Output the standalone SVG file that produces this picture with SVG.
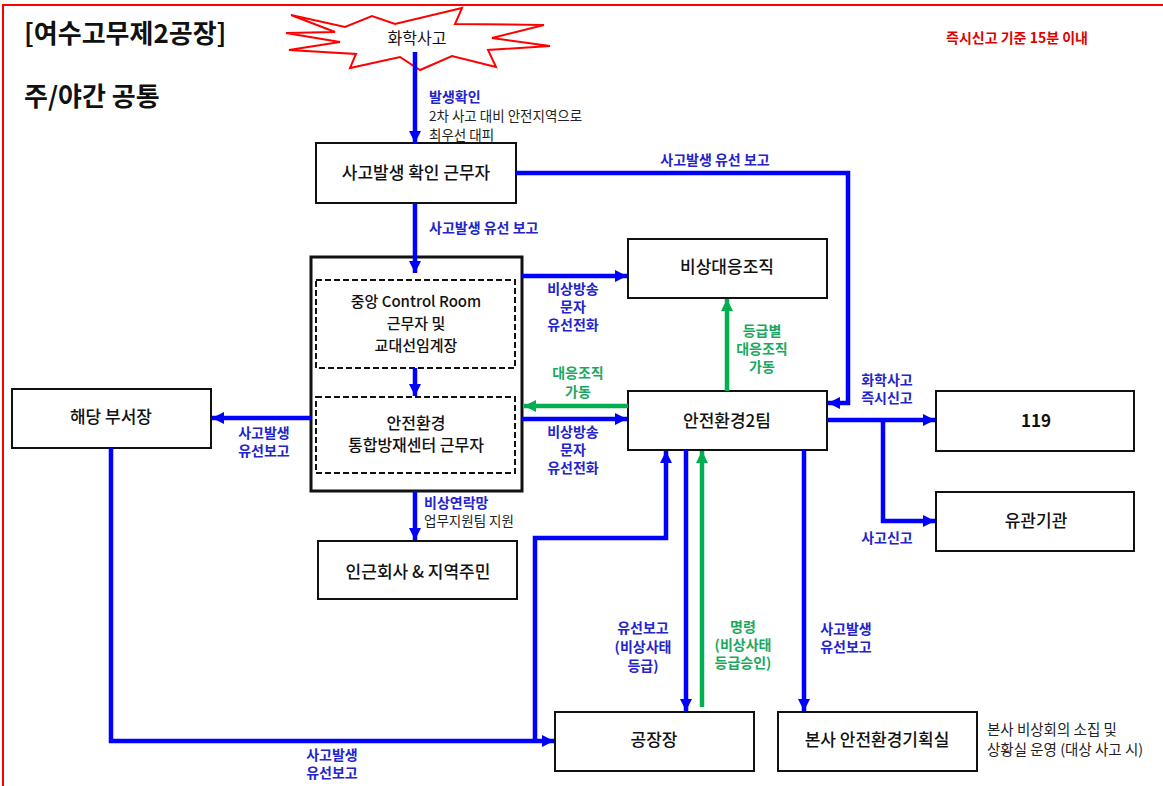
<svg xmlns="http://www.w3.org/2000/svg" width="1163" height="786" viewBox="0 0 1163 786">
<defs>
<marker id="ab" markerUnits="userSpaceOnUse" markerWidth="13" markerHeight="13" refX="12" refY="6" orient="auto"><path d="M0,0 L12,6 L0,12 z" fill="#0000ff"/></marker>
<marker id="ag" markerUnits="userSpaceOnUse" markerWidth="13" markerHeight="13" refX="12" refY="6" orient="auto"><path d="M0,0 L12,6 L0,12 z" fill="#00b050"/></marker>
<style>
text{font-family:"Noto Sans CJK KR","Liberation Sans",sans-serif;}
.box{fill:#fff;stroke:#111;stroke-width:2;}
.dash{fill:none;stroke:#111;stroke-width:2;stroke-dasharray:6,3;}
.nl{font-size:17px;font-weight:500;fill:#111;text-anchor:middle;}
.bl{font-size:14px;font-weight:bold;fill:#2424cc;}
.gl{font-size:14px;font-weight:bold;fill:#1aa860;}
.sm{font-size:13.5px;fill:#222;}
.c{text-anchor:middle;}
.lb{fill:none;stroke:#0000ff;stroke-width:4.5;stroke-linejoin:miter;marker-end:url(#ab);}
.lg{fill:none;stroke:#00b050;stroke-width:4.5;marker-end:url(#ag);}
</style>
</defs>
<rect x="0" y="0" width="1163" height="786" fill="#fff"/>
<rect x="3" y="5" width="1200" height="800" fill="none" stroke="#ff0000" stroke-width="2"/>
<text x="24" y="43" style="font-size:26px;font-weight:bold;fill:#111">[여수고무제2공장]</text>
<text x="24" y="106" style="font-size:26px;font-weight:bold;fill:#111">주/야간 공통</text>
<text x="946" y="43" style="font-size:14px;font-weight:bold;fill:#e00000">즉시신고 기준 15분 이내</text>

<g id="node-accident">
<polygon points="291,15 345,27 372,16 395,24 462,8 455,24 544,25 492,38 550,46 488,50 496,67 452,56 420,70 400,57 350,68 356,54 289,50 340,42 286,33 335,32" fill="#fff" stroke="#ff0000" stroke-width="2" stroke-linejoin="miter"/>
<text class="nl" x="417" y="44" style="font-size:16px;font-weight:normal">화학사고</text>
</g>
<g id="node-confirm">
<rect class="box" x="316" y="143" width="200" height="60"/>
<text class="nl" x="416" y="179">사고발생 확인 근무자</text>
</g>
<g id="node-central">
<rect x="311" y="257" width="211" height="234" fill="#fff" stroke="#111" stroke-width="3"/>
<rect class="dash" x="316" y="280" width="199" height="88"/>
<text class="nl" x="416" y="307" style="font-size:15px">중앙 Control Room</text>
<text class="nl" x="416" y="329" style="font-size:15px">근무자 및</text>
<text class="nl" x="416" y="351" style="font-size:15px">교대선임계장</text>
<rect class="dash" x="316" y="397" width="199" height="76"/>
<text class="nl" x="416" y="429" style="font-size:16px">안전환경</text>
<text class="nl" x="416" y="451" style="font-size:16px">통합방재센터 근무자</text>
</g>
<g id="node-dept">
<rect class="box" x="12" y="389" width="199" height="59"/>
<text class="nl" x="111" y="423">해당 부서장</text>
</g>
<g id="node-emergency-org">
<rect class="box" x="628" y="239" width="199" height="59"/>
<text class="nl" x="727" y="273">비상대응조직</text>
</g>
<g id="node-team2">
<rect class="box" x="628" y="391" width="199" height="59"/>
<text class="nl" x="727" y="427">안전환경2팀</text>
</g>
<g id="node-119">
<rect class="box" x="936" y="391" width="198" height="60"/>
<text class="nl" x="1036" y="427" style="font-weight:bold">119</text>
</g>
<g id="node-agency">
<rect class="box" x="936" y="492" width="198" height="59"/>
<text class="nl" x="1036" y="527">유관기관</text>
</g>
<g id="node-neighbors">
<rect class="box" x="318" y="541" width="199" height="58"/>
<text class="nl" x="418" y="578">인근회사 &amp; 지역주민</text>
</g>
<g id="node-plant-manager">
<rect class="box" x="555" y="712" width="199" height="59"/>
<text class="nl" x="654" y="746">공장장</text>
</g>
<g id="node-hq">
<rect class="box" x="778" y="712" width="199" height="59"/>
<text class="nl" x="877" y="746">본사 안전환경기획실</text>
</g>

<g id="connectors">
<path class="lb" d="M415,52 V143"/>
<path class="lb" d="M516,173 H848 V403 H828"/>
<path class="lb" d="M415,203 V273"/>
<path class="lb" d="M415,368 V396"/>
<path class="lb" d="M311,418 H212"/>
<path class="lb" d="M522,276 H627"/>
<path class="lg" d="M628,406 H524"/>
<path class="lb" d="M522,419 H627"/>
<path class="lb" d="M415,491 V540"/>
<path class="lg" d="M727,391 V299"/>
<path class="lb" d="M827,420 H935"/>
<path class="lb" d="M883,420 V521 H935"/>
<path class="lb" d="M111,448 V741 H554"/>
<path class="lb" d="M535,741 V538 H666 V451"/>
<path class="lb" d="M686,450 V711"/>
<path class="lg" d="M702,707 V451"/>
<path class="lb" d="M804,450 V711"/>
</g>

<g id="labels">
<text class="bl" x="429" y="102">발생확인</text>
<text class="sm" x="429" y="121">2차 사고 대비 안전지역으로</text>
<text class="sm" x="429" y="140">최우선 대피</text>
<text class="bl" x="429" y="233">사고발생 유선 보고</text>
<text class="bl c" x="715" y="165">사고발생 유선 보고</text>
<text class="bl c" x="573" y="294">비상방송</text>
<text class="bl c" x="573" y="312">문자</text>
<text class="bl c" x="573" y="330">유선전화</text>
<text class="gl c" x="578" y="378">대응조직</text>
<text class="gl c" x="578" y="397">가동</text>
<text class="bl c" x="573" y="437">비상방송</text>
<text class="bl c" x="573" y="455">문자</text>
<text class="bl c" x="573" y="473">유선전화</text>
<text class="bl c" x="264" y="438">사고발생</text>
<text class="bl c" x="264" y="456">유선보고</text>
<text class="bl" x="424" y="508">비상연락망</text>
<text class="sm" x="424" y="526">업무지원팀 지원</text>
<text class="gl c" x="762" y="336">등급별</text>
<text class="gl c" x="762" y="354">대응조직</text>
<text class="gl c" x="762" y="372">가동</text>
<text class="bl c" x="887" y="385">화학사고</text>
<text class="bl c" x="887" y="403">즉시신고</text>
<text class="bl c" x="887" y="543">사고신고</text>
<text class="bl c" x="643" y="633">유선보고</text>
<text class="bl c" x="643" y="652">(비상사태</text>
<text class="bl c" x="643" y="671">등급)</text>
<text class="gl c" x="743" y="632">명령</text>
<text class="gl c" x="743" y="650">(비상사태</text>
<text class="gl c" x="743" y="668">등급승인)</text>
<text class="bl c" x="846" y="634">사고발생</text>
<text class="bl c" x="846" y="652">유선보고</text>
<text class="bl c" x="332" y="760">사고발생</text>
<text class="bl c" x="332" y="778">유선보고</text>
<text class="sm" x="987" y="735" style="font-size:14.5px">본사 비상회의 소집 및</text>
<text class="sm" x="987" y="755" style="font-size:14.5px">상황실 운영 (대상 사고 시)</text>
</g>
</svg>
